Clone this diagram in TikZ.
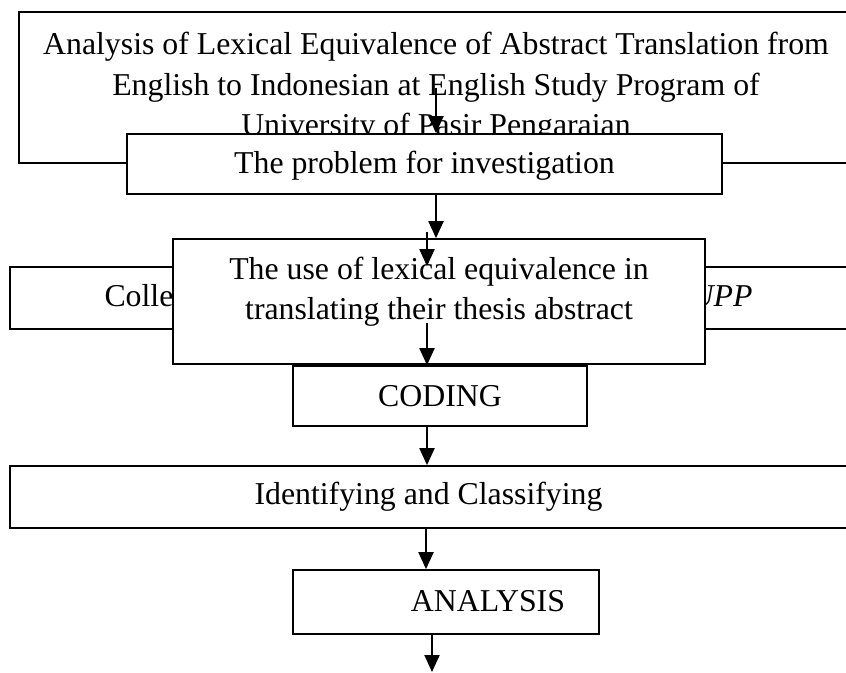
\documentclass[tikz,border=0pt]{standalone}
\usepackage{fontspec}
\setmainfont{Liberation Serif}
\usetikzlibrary{arrows.meta}
\newcommand\diafont{\fontsize{31.8pt}{40.5pt}\selectfont}
\begin{document}
\begin{tikzpicture}[x=1pt,y=-1pt,
  box/.style={draw, line width=1.7pt, fill=white, inner sep=0pt, font=\diafont},
  arr/.style={line width=2pt, -{Triangle[width=15pt,length=17pt]}}]
\useasboundingbox (0,0) rectangle (846,672);
\clip (0,0) rectangle (846,672);
% boxes
\node[box, minimum width=834pt, minimum height=151pt, align=center] (title) at (436,87.5)
  {Analysis of Lexical Equivalence of Abstract Translation from\\English to Indonesian at English Study Program of\\University of Pasir Pengaraian};
\node[box, minimum width=595pt, minimum height=60pt, text depth=3pt] (prob) at (424.5,164)
  {The problem for investigation};
\node[box, minimum width=837pt, minimum height=62pt, text depth=6pt] (coll) at (428.5,298)
  {\makebox[648pt]{Colle\hfill\textit{UPP}}};
\node[box, minimum width=532pt, minimum height=125pt, align=center] (use) at (439,301.5)
  {The use of lexical equivalence in\\translating their thesis abstract\rule[-26pt]{0pt}{26pt}};
\node[box, minimum width=294pt, minimum height=60pt] (coding) at (440,396) {CODING};
\node[box, minimum width=837pt, minimum height=62pt] (ident) at (428.5,497) {Identifying and Classifying};
\node[box, minimum width=306pt, minimum height=64pt, text depth=3pt] (anal) at (446,602) {\hspace*{84pt}ANALYSIS};
% connector columns / free ends
\coordinate (a1) at (436,88);
\coordinate (a3) at (427,232);
\coordinate (a4) at (427,323);
\coordinate (c6) at (426,0);
\coordinate (fin) at (432,672);
% arrows
\draw[arr] (a1) -- (a1 |- prob.north);
\draw[arr] (prob.south -| a1) -- (use.north -| a1);
\draw[arr] (a3) -- (a3 |- coll.north);
\draw[arr] (a4) -- (a4 |- coding.north);
\draw[arr] (coding.south -| a4) -- (ident.north -| a4);
\draw[arr] (ident.south -| c6) -- (anal.north -| c6);
\draw[arr] (anal.south -| fin) -- (fin);
\end{tikzpicture}
\end{document}
